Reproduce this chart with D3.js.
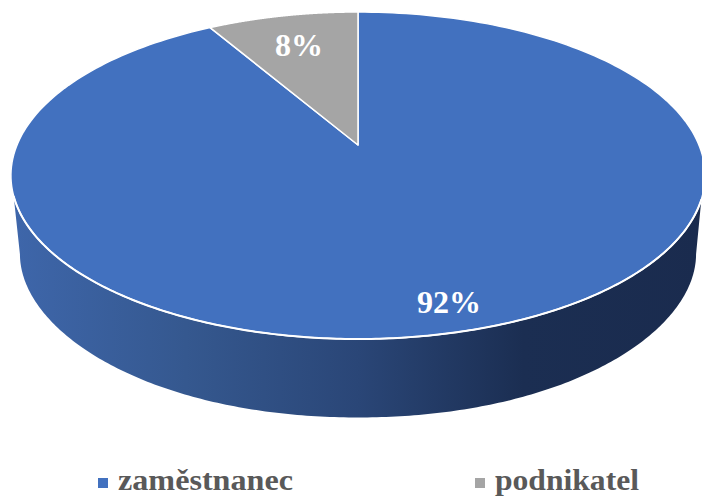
<!DOCTYPE html>
<html><head><meta charset="utf-8">
<script src="https://cdn.jsdelivr.net/npm/d3@7"></script>
<style>html,body{margin:0;padding:0;background:#fff;overflow:hidden}svg{display:block}</style>
</head><body><div id="c"></div>
<script>
const categories = ["zaměstnanec", "podnikatel"];
const shares = [91.6, 8.4];
const labels = ["92%", "8%"];
const colors = ["#4271bf", "#a5a5a5"];

const W = 702, H = 497;
const svg = d3.select("#c").append("svg").attr("width", W).attr("height", H);
const font = "'Liberation Serif','Times New Roman',serif";

// perspective projection of the pie disc
const cx = 358, R = 341, c = 0.18654, a = -130.76, b = 145;
const project = (theta, r = 1) => {
  const u = r * Math.sin(theta), v = r * Math.cos(theta), d = 1 + c * v;
  return [cx + R * u / d, (a * v + b) / d];
};
const floor = ([x, y]) => {
  const fx = cx + (x - cx) * 0.974;
  const bend = 8 * Math.pow(Math.abs(fx - cx) / 337, 3);
  return [fx, 262 + (y - 175.5) * 0.951 - bend];
};

const pieGen = d3.pie().sort(null).value(d => d);
const arcs = pieGen(shares);
const line = d3.line();
const angles = (s, e) => d3.range(0, 241).map(i => s + (e - s) * i / 240);

// side wall
const defs = svg.append("defs");
const grad = defs.append("linearGradient").attr("id", "side")
  .attr("gradientUnits", "userSpaceOnUse").attr("x1", 14).attr("x2", 702).attr("y1", 0).attr("y2", 0);
[[0, "#3e66aa"], [0.25, "#35588f"], [0.5, "#2a4677"], [0.74, "#1b2e52"], [1, "#1a2b4e"]]
  .forEach(([o, col]) => grad.append("stop").attr("offset", o).attr("stop-color", col));

const front = angles(Math.PI * 0.5 + 0.19, Math.PI * 1.5 - 0.19);
const rimLeftTheta = Math.PI * 1.5 - 0.31, rimRightTheta = Math.PI * 0.5 + 0.33;
const bottomRim = front.map(t => floor(project(t)));
const sidePts = [project(rimRightTheta), ...bottomRim, project(rimLeftTheta)];
svg.append("path").attr("d", line(sidePts) + "Z").attr("fill", "url(#side)");

// top slices
const sliceG = svg.append("g");
arcs.forEach((d, i) => {
  const pts = angles(d.startAngle, d.endAngle).map(t => project(t));
  const apex = project(0, 0);
  sliceG.append("path").attr("d", line([apex, ...pts]) + "Z")
    .attr("fill", colors[i]).attr("stroke", "#fff").attr("stroke-width", 1.5)
    .attr("stroke-linejoin", "round");
});

// bright front edge
svg.append("path")
  .attr("d", line(angles(rimRightTheta, rimLeftTheta).map(t => project(t))))
  .attr("fill", "none").attr("stroke", "#fff").attr("stroke-width", 2);

// value labels
const labelPos = [[449, 302], [299, 45]];
svg.selectAll("text.v").data(labels).join("text").attr("class", "v")
  .attr("x", (d, i) => labelPos[i][0]).attr("y", (d, i) => labelPos[i][1])
  .attr("dy", "0.35em").attr("text-anchor", "middle")
  .attr("font-family", font).attr("font-weight", 700).attr("font-size", 32)
  .attr("fill", "#fff").text(d => d);

// legend
const legendX = [98, 475];
const legendWidth = [175, 144];
const legend = svg.selectAll("g.l").data(categories).join("g").attr("class", "l")
  .attr("transform", (d, i) => `translate(${legendX[i]},478)`);
legend.append("rect").attr("width", 10).attr("height", 10).attr("fill", (d, i) => colors[i]);
legend.append("text").attr("x", 20).attr("y", 12)
  .attr("textLength", (d, i) => legendWidth[i]).attr("lengthAdjust", "spacingAndGlyphs")
  .attr("font-family", font).attr("font-weight", 700).attr("font-size", 30)
  .attr("fill", "#595959").text(d => d);
</script></body></html>
